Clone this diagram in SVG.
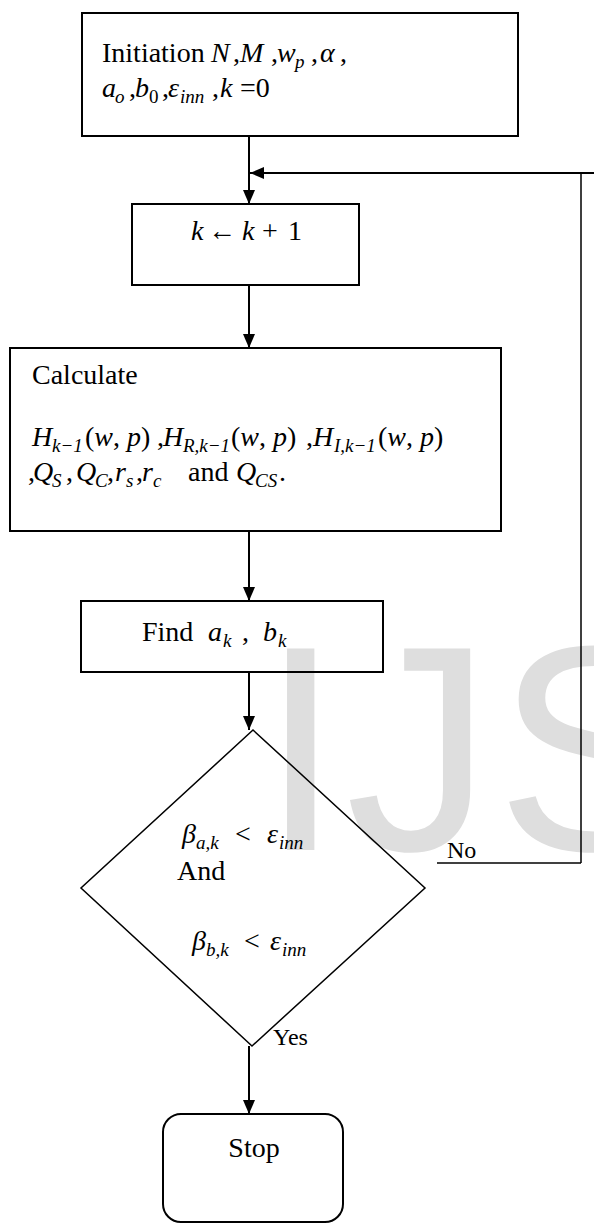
<svg xmlns="http://www.w3.org/2000/svg" width="594" height="1224" viewBox="0 0 594 1224">
<defs>
<style>
.t{font-family:"Liberation Serif",serif;font-size:28px;fill:#000}
.m{font-style:italic}
.s{font-size:19px}
.lbl{font-family:"Liberation Serif",serif;font-size:24px;fill:#000}
.box{fill:none;stroke:#000;stroke-width:2}
.ln{fill:none;stroke:#000;stroke-width:2}
.thin{fill:none;stroke:#000;stroke-width:1.5}
.wm{font-family:"Liberation Sans",sans-serif;font-size:293px;fill:#dedede}
</style>
<marker id="ah" viewBox="0 0 14 12" refX="14" refY="6" markerWidth="14" markerHeight="12" markerUnits="userSpaceOnUse" orient="auto">
<path d="M0,0 L14,6 L0,12 Z" fill="#000"/>
</marker>
</defs>
<rect width="594" height="1224" fill="#fff"/>
<text class="wm" x="260" y="850" letter-spacing="4">IJS</text>

<g id="connectors">
<line class="ln" x1="249" y1="136" x2="249" y2="204" marker-end="url(#ah)"/>
<polyline class="thin" points="581,863 581,173 594,173"/>
<line class="ln" x1="594" y1="173" x2="250" y2="173" marker-end="url(#ah)"/>
<line class="ln" x1="249" y1="285" x2="249" y2="348" marker-end="url(#ah)"/>
<line class="ln" x1="249" y1="531" x2="249" y2="601" marker-end="url(#ah)"/>
<line class="ln" x1="249" y1="672" x2="249" y2="730" marker-end="url(#ah)"/>
<line class="thin" x1="437" y1="863" x2="581" y2="863"/>
<text class="lbl" x="447" y="858">No</text>
<line class="ln" x1="249" y1="1046" x2="249" y2="1114" marker-end="url(#ah)"/>
<text class="lbl" x="273" y="1045">Yes</text>
</g>

<g id="init">
<rect class="box" x="82" y="13" width="436" height="123"/>
<text class="t" y="62"><tspan x="102">Initiation</tspan><tspan class="m" x="211">N</tspan><tspan x="233">,</tspan><tspan class="m" x="240">M</tspan><tspan x="271">,</tspan><tspan class="m" x="277">w</tspan><tspan class="s m" x="295" y="68">p</tspan><tspan x="311" y="62">,</tspan><tspan class="m" x="320">α</tspan><tspan x="340">,</tspan></text>
<text class="t" y="97"><tspan class="m" x="102">a</tspan><tspan class="s m" x="115" y="103">o</tspan><tspan x="129" y="97">,</tspan><tspan class="m" x="135">b</tspan><tspan class="s" x="149" y="103">0</tspan><tspan x="162" y="97">,</tspan><tspan class="m" x="168">ε</tspan><tspan class="s m" x="180" y="103">inn</tspan><tspan x="212" y="97">,</tspan><tspan class="m" x="220">k</tspan><tspan x="240">=0</tspan></text>
</g>

<g id="increment">
<rect class="box" x="132" y="204" width="227" height="81"/>
<text class="t" y="240"><tspan class="m" x="191">k</tspan><tspan x="208">←</tspan><tspan class="m" x="242">k</tspan><tspan x="262">+</tspan><tspan x="288">1</tspan></text>
</g>

<g id="calculate">
<rect class="box" x="10" y="348" width="491" height="183"/>
<text class="t" x="32" y="384">Calculate</text>
<text class="t" y="446"><tspan class="m" x="32">H</tspan><tspan class="s m" x="52" y="452">k−1</tspan><tspan x="85" y="446">(<tspan class="m">w</tspan>, <tspan class="m">p</tspan>)</tspan><tspan x="157">,</tspan><tspan class="m" x="163">H</tspan><tspan class="s m" x="183" y="452">R,k−1</tspan><tspan x="231" y="446">(<tspan class="m">w</tspan>, <tspan class="m">p</tspan>)</tspan><tspan x="306">,</tspan><tspan class="m" x="313">H</tspan><tspan class="s m" x="334" y="452">I,k−1</tspan><tspan x="378" y="446">(<tspan class="m">w</tspan>, <tspan class="m">p</tspan>)</tspan></text>
<text class="t" y="481"><tspan x="28">,</tspan><tspan class="m" x="33">Q</tspan><tspan class="s m" x="52" y="487">S</tspan><tspan x="66" y="481">,</tspan><tspan class="m" x="76">Q</tspan><tspan class="s m" x="95" y="487">C</tspan><tspan x="107" y="481">,</tspan><tspan class="m" x="115">r</tspan><tspan class="s m" x="126" y="487">s</tspan><tspan x="136" y="481">,</tspan><tspan class="m" x="142">r</tspan><tspan class="s m" x="153" y="487">c</tspan><tspan x="188" y="481">and</tspan><tspan class="m" x="236">Q</tspan><tspan class="s m" x="255" y="487">CS</tspan><tspan x="279" y="481">.</tspan></text>
</g>

<g id="find">
<rect class="box" x="81" y="601" width="302" height="71"/>
<text class="t" y="641"><tspan x="142">Find</tspan><tspan class="m" x="208">a</tspan><tspan class="s m" x="223" y="647">k</tspan><tspan x="242" y="641">,</tspan><tspan class="m" x="263">b</tspan><tspan class="s m" x="278" y="647">k</tspan></text>
</g>

<g id="decision">
<polygon class="thin" points="253,730 425,888 252,1046 81,888"/>
<text class="t" y="843"><tspan class="m" x="182">β</tspan><tspan class="s m" x="196" y="849">a,k</tspan><tspan x="235" y="843">&lt;</tspan><tspan class="m" x="267">ε</tspan><tspan class="s m" x="279" y="849">inn</tspan></text>
<text class="t" x="177" y="880">And</text>
<text class="t" y="950"><tspan class="m" x="192">β</tspan><tspan class="s m" x="206" y="956">b,k</tspan><tspan x="244" y="950">&lt;</tspan><tspan class="m" x="270">ε</tspan><tspan class="s m" x="282" y="956">inn</tspan></text>
</g>

<g id="stop">
<rect class="box" x="163" y="1114" width="180" height="108" rx="18"/>
<text class="t" x="254" y="1157" text-anchor="middle">Stop</text>
</g>
</svg>
